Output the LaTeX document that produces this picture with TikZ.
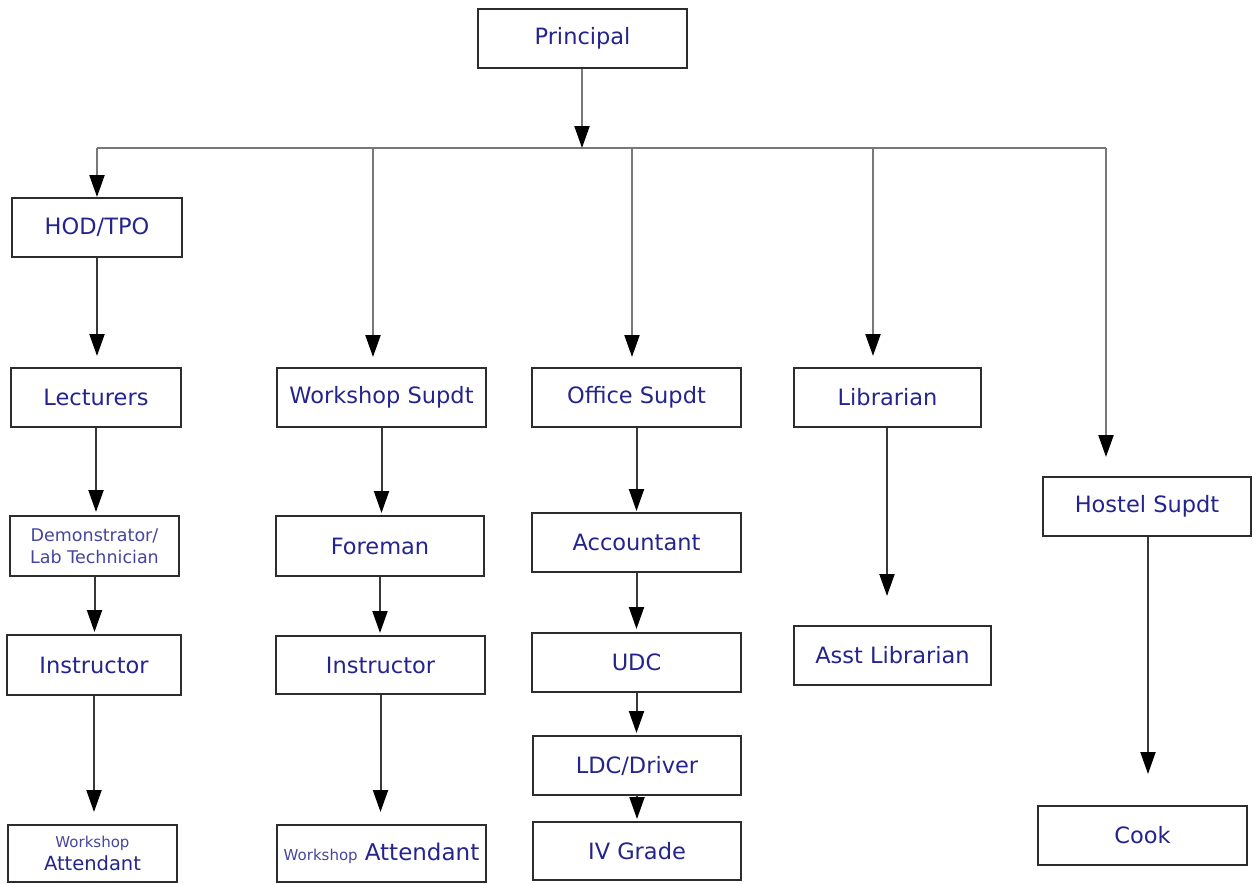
\documentclass[tikz,border=0pt]{standalone}
\usepackage{fontspec}
\setmainfont{DejaVu Sans}
\usetikzlibrary{arrows.meta}
\definecolor{txtblue}{RGB}{36,36,140}
\definecolor{boxline}{RGB}{45,45,45}
\definecolor{busgray}{RGB}{120,120,120}
\definecolor{arrgray}{RGB}{55,55,55}
\tikzset{
  box/.style={draw=boxline, line width=2pt, rectangle, inner sep=0pt, align=center,
    text=txtblue, font=\fontsize{22.5}{25}\selectfont},
  bus/.style={draw=busgray, line width=2.2pt},
  busarrow/.style={draw=busgray, line width=2.2pt, -{Triangle[length=22pt,width=15pt,fill=black,color=black]}},
  conn/.style={draw=arrgray, line width=2pt, -{Triangle[length=22pt,width=15pt,fill=black,color=black]}},
}
\begin{document}
\begin{tikzpicture}[x=1pt,y=-1pt]
\useasboundingbox (0,0) rectangle (1254,884);
% boxes
\node[box, minimum width=209pt, minimum height=59pt] (prin) at (582.5,38) {Principal};
\node[box, minimum width=170pt, minimum height=59pt] (hod) at (97,227.5) {HOD/TPO};
\node[box, minimum width=170pt, minimum height=59pt] (lect) at (96,397.5) {Lecturers};
\node[box, minimum width=169pt, minimum height=60pt, font=\fontsize{17.5}{22}\selectfont, text=txtblue!85!white] (demo) at (94.5,546) {Demonstrator/\\Lab Technician};
\node[box, minimum width=174pt, minimum height=60pt] (instra) at (94,665) {Instructor};
\node[box, minimum width=169pt, minimum height=57pt] (waa) at (92.5,853.5) {{\fontsize{15}{17}\selectfont\color{txtblue!85!white}Workshop}\\[-2pt]{\fontsize{19.5}{21}\selectfont Attendant}};
\node[box, minimum width=209pt, minimum height=59pt] (wsup) at (381.5,397.5) {Workshop Supdt};
\node[box, minimum width=208pt, minimum height=60pt] (fore) at (380,546) {Foreman};
\node[box, minimum width=209pt, minimum height=58pt] (instrb) at (380.5,665) {Instructor};
\node[box, minimum width=209pt, minimum height=57pt] (wab) at (381.5,853.5) {{\fontsize{15}{17}\selectfont\color{txtblue!85!white}Workshop} {\fontsize{23}{25}\selectfont Attendant}};
\node[box, minimum width=209pt, minimum height=59pt] (osup) at (636.5,397.5) {Office Supdt};
\node[box, minimum width=209pt, minimum height=59pt] (acct) at (636.5,542.5) {Accountant};
\node[box, minimum width=209pt, minimum height=59pt] (udc) at (636.5,662.5) {UDC};
\node[box, minimum width=208pt, minimum height=59pt] (ldc) at (637,765.5) {LDC/Driver};
\node[box, minimum width=208pt, minimum height=58pt] (ivg) at (637,851) {IV Grade};
\node[box, minimum width=187pt, minimum height=59pt] (lib) at (887.5,397.5) {Librarian};
\node[box, minimum width=197pt, minimum height=59pt] (alib) at (892.5,655.5) {Asst Librarian};
\node[box, minimum width=208pt, minimum height=59pt] (hos) at (1147,506.5) {Hostel Supdt};
\node[box, minimum width=209pt, minimum height=59pt] (cook) at (1142.5,835.5) {Cook};
% bus
\coordinate (bp) at (582,148);
\coordinate (bh) at (97,148);
\coordinate (bw) at (373,148);
\coordinate (bo) at (632,148);
\coordinate (bl) at (873,148);
\coordinate (bs) at (1106,148);
\coordinate (lx) at (887,0);
\coordinate (hx) at (1148,0);
\draw[bus] (bh) -- (bs);
\draw[busarrow] (prin.south -| bp) -- (bp);
\draw[busarrow] (bh) -- (hod.north);
\draw[busarrow, shorten >=10pt] (bw) -- (bw |- wsup.north);
\draw[busarrow, shorten >=10pt] (bo) -- (bo |- osup.north);
\draw[busarrow, shorten >=11pt] (bl) -- (bl |- lib.north);
\draw[busarrow, shorten >=19pt] (bs) -- (bs |- hos.north);
% column 1
\draw[conn, shorten >=11pt] (hod.south) -- (hod.south |- lect.north);
\draw[conn, shorten >=3pt] (lect.south) -- (lect.south |- demo.north);
\draw[conn, shorten >=2pt] (demo.south) -- (demo.south |- instra.north);
\draw[conn, shorten >=12pt] (instra.south) -- (instra.south |- waa.north);
% column 2
\draw[conn, shorten >=2pt] (wsup.south) -- (wsup.south |- fore.north);
\draw[conn, shorten >=2pt] (fore.south) -- (fore.south |- instrb.north);
\draw[conn, shorten >=12pt] (instrb.south) -- (instrb.south |- wab.north);
% column 3
\draw[conn, shorten >=1pt] (osup.south) -- (osup.south |- acct.north);
\draw[conn, shorten >=3pt] (acct.south) -- (acct.south |- udc.north);
\draw[conn, shorten >=2pt] (udc.south) -- (udc.south |- ldc.north);
\draw[conn, shorten >=2pt] (ldc.south) -- (ldc.south |- ivg.north);
% columns 4 and 5
\draw[conn, shorten >=29pt] (lib.south -| lx) -- (lx |- alib.north);
\draw[conn, shorten >=31pt] (hos.south -| hx) -- (hx |- cook.north);
\end{tikzpicture}
\end{document}
